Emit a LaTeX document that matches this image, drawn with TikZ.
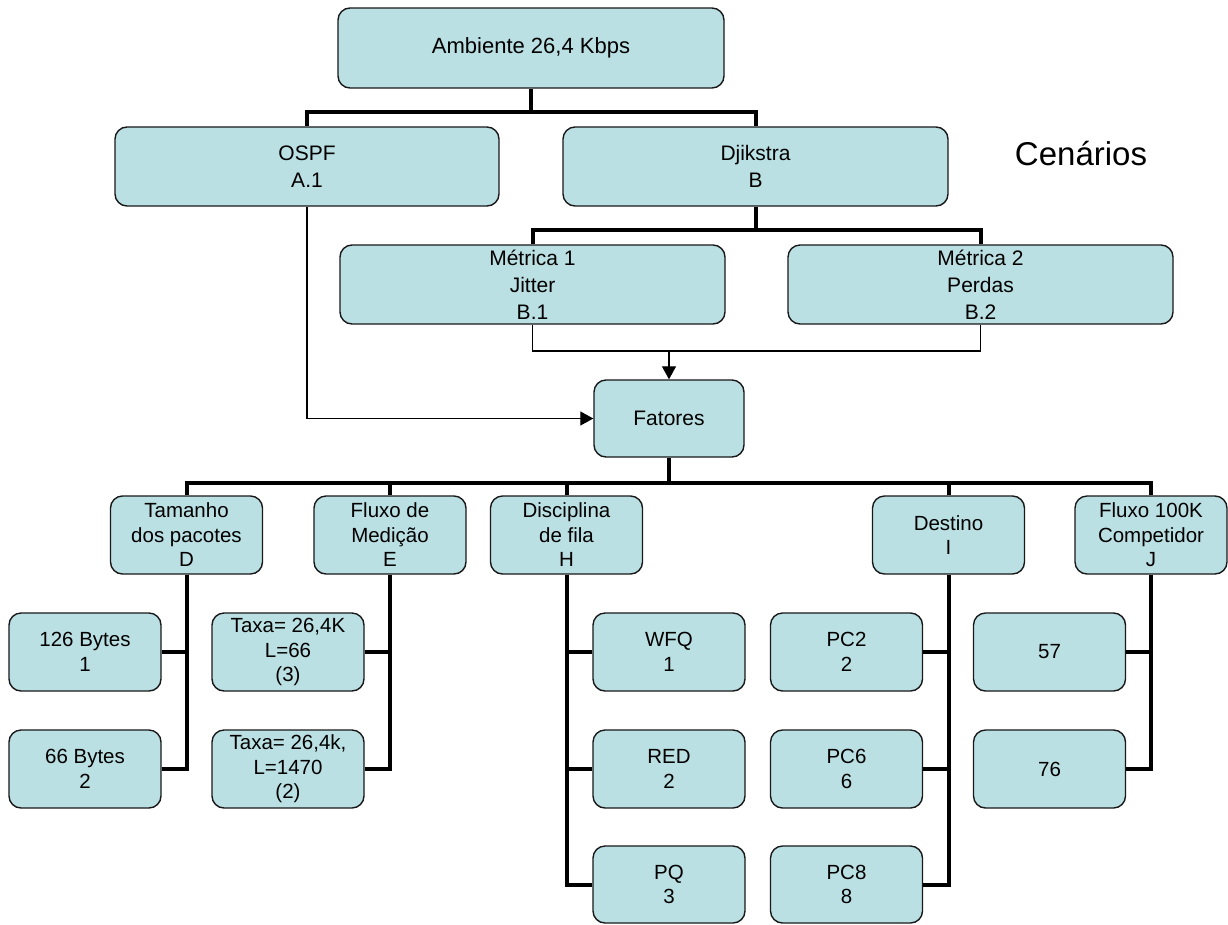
\documentclass[tikz,border=0pt]{standalone}
\usepackage{fontspec}
\setmainfont{Liberation Sans}
\usetikzlibrary{arrows.meta}
\definecolor{boxfill}{RGB}{187,224,227}
\tikzset{
  box/.style={draw=black!90, line width=1.4pt, fill=boxfill, rounded corners=12pt,
    inner sep=0pt, align=center, text=black,
    font=\fontsize{20.5}{24.5}\selectfont},
  upbox/.style={box, font=\fontsize{21}{27}\selectfont},
  bar/.style={line width=4pt, draw=black},
  thinline/.style={line width=1.3pt, draw=black},
  tip/.style={-{Triangle[length=13pt,width=14pt]}}
}
\begin{document}
\begin{tikzpicture}[x=1pt,y=-1pt]
\useasboundingbox (0,0) rectangle (1228,924);

% top levels
\node[upbox, minimum width=386pt, minimum height=80pt, font=\fontsize{22}{27}\selectfont] (amb) at (531,48) {Ambiente 26,4 Kbps};
\node[upbox, minimum width=384pt, minimum height=79pt] (ospf) at (307,166.5) {OSPF\\A.1};
\node[upbox, minimum width=385pt, minimum height=79pt] (dji) at (755.5,166.5) {Djikstra\\B};
\node[font=\fontsize{33}{38}\selectfont] (cen) at (1081,154) {Cenários};
\node[upbox, minimum width=385pt, minimum height=79pt] (m1) at (532.5,284.5) {Métrica 1\\Jitter\\B.1};
\node[upbox, minimum width=385pt, minimum height=79pt] (m2) at (980.5,284.5) {Métrica 2\\Perdas\\B.2};
\node[upbox, minimum width=150pt, minimum height=77pt] (fat) at (669,418.5) {Fatores};

% factors
\tikzset{lvl/.style={box, minimum width=152pt, minimum height=78pt}}
\node[lvl] (D) at (186.5,535) {Tamanho\\dos pacotes\\D};
\node[lvl] (E) at (390,535) {Fluxo de\\Medição\\E};
\node[lvl] (H) at (566.5,535) {Disciplina\\de fila\\H};
\node[lvl] (I) at (948.5,535) {Destino\\I};
\node[lvl] (J) at (1151,535) {Fluxo 100K\\Competidor\\J};

% levels
\node[lvl] (d1) at (85,652) {126 Bytes\\1};
\node[lvl] (d2) at (85,769) {66 Bytes\\2};
\node[lvl] (e1) at (288,652) {Taxa= 26,4K\\L=66\\(3)};
\node[lvl] (e2) at (288,769) {Taxa= 26,4k,\\L=1470\\(2)};
\node[lvl] (h1) at (669,652) {WFQ\\1};
\node[lvl] (h2) at (669,769) {RED\\2};
\node[lvl, minimum height=77pt] (h3) at (669,884.5) {PQ\\3};
\node[lvl] (i1) at (846.5,652) {PC2\\2};
\node[lvl] (i2) at (846.5,769) {PC6\\6};
\node[lvl, minimum height=77pt] (i3) at (846.5,884.5) {PC8\\8};
\node[lvl] (j1) at (1049.5,652) {57};
\node[lvl] (j2) at (1049.5,769) {76};

% tree connectors
\coordinate (busA) at (531,112);
\coordinate (busB) at (755.5,230);
\coordinate (busC) at (669,483);
\draw[bar] (amb.south) -- (busA);
\draw[bar] (ospf.north) |- (busA) -| (dji.north);
\draw[bar] (dji.south) -- (busB);
\draw[bar] (m1.north) |- (busB) -| (m2.north);
\draw[bar] (fat.south) -- (busC);
\draw[bar] (D.north) |- (busC) -| (J.north);
\foreach \n in {E,H,I} \draw[bar] (\n.north) -- (\n.north |- busC);

\draw[bar] (D.south) |- (d2.east);
\draw[bar] (d1.east) -- (d1.east -| D.south);
\draw[bar] (E.south) |- (e2.east);
\draw[bar] (e1.east) -- (e1.east -| E.south);
\draw[bar] (H.south) |- (h3.west);
\draw[bar] (h1.west) -- (h1.west -| H.south);
\draw[bar] (h2.west) -- (h2.west -| H.south);
\draw[bar] (I.south) |- (i3.east);
\draw[bar] (i1.east) -- (i1.east -| I.south);
\draw[bar] (i2.east) -- (i2.east -| I.south);
\draw[bar] (J.south) |- (j2.east);
\draw[bar] (j1.east) -- (j1.east -| J.south);

% flows into the factors box
\coordinate (mjoin) at (fat.north |- 0,351);
\draw[thinline] (m1.south) |- (mjoin) -| (m2.south);
\draw[thinline, tip] (mjoin) -- (fat.north);
\draw[thinline, tip] (ospf.south) |- (fat.west);
\end{tikzpicture}
\end{document}
